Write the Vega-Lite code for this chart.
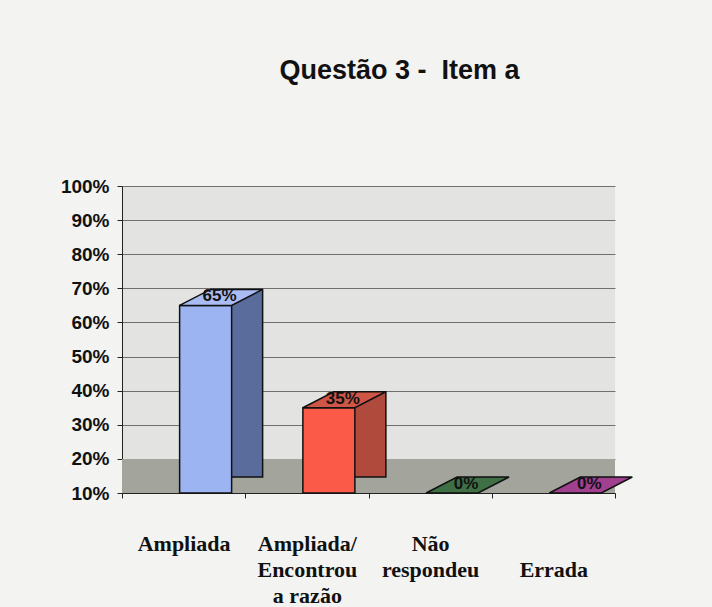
{
  "$schema": "https://vega.github.io/schema/vega-lite/v6.json",
  "autosize": {"type": "none"},
  "padding": {"left": 122, "top": 186, "right": 97, "bottom": 114},
  "width": 493,
  "height": 307,
  "background": "#f3f3f1",
  "title": {
    "text": "Questão 3 -\u00a0 Item a",
    "font": "Liberation Sans",
    "fontSize": 27,
    "fontWeight": "bold",
    "color": "#111111",
    "anchor": "middle",
    "dx": 31,
    "offset": 92
  },
  "data": {
    "values": [
      {"categoria": "Ampliada", "valor": 0.65},
      {"categoria": "Ampliada/ Encontrou a razão", "valor": 0.35},
      {"categoria": "Não respondeu", "valor": 0},
      {"categoria": "Errada", "valor": 0}
    ]
  },
  "encoding": {
    "x": {
      "field": "categoria",
      "type": "nominal",
      "sort": null,
      "scale": {"paddingInner": 0, "paddingOuter": 0},
      "axis": {
        "title": null,
        "labelAngle": 0,
        "labelAlign": "center",
        "labelBaseline": "top",
        "labelFont": "Liberation Serif",
        "labelFontSize": 22,
        "labelFontWeight": "bold",
        "labelColor": "#111111",
        "labelLineHeight": 26,
        "labelLimit": 0,
        "labelOverlap": false,
        "labelPadding": 35,
        "labelExpr": "datum.value == 'Ampliada/ Encontrou a razão' ? ['Ampliada/', 'Encontrou', 'a razão'] : datum.value == 'Não respondeu' ? ['Não', 'respondeu'] : datum.value == 'Errada' ? ['', 'Errada'] : datum.value",
        "domainColor": "#222222",
        "tickColor": "#222222",
        "tickBand": "extent",
        "tickSize": 5,
        "grid": false
      }
    },
    "y": {
      "field": "valor",
      "type": "quantitative",
      "scale": {"domain": [0.1, 1], "zero": false, "clamp": true, "nice": false},
      "axis": {
        "title": null,
        "values": [0.1, 0.2, 0.3, 0.4, 0.5, 0.6, 0.7, 0.8, 0.9, 1],
        "format": ".0%",
        "labelFont": "Liberation Sans",
        "labelFontSize": 19,
        "labelFontWeight": "bold",
        "labelColor": "#111111",
        "labelPadding": 8,
        "domainColor": "#222222",
        "tickColor": "#222222",
        "tickSize": 5,
        "grid": true,
        "gridColor": "#707070",
        "gridWidth": 1
      }
    }
  },
  "layer": [
    {
      "mark": {"type": "rect", "color": "#a3a49b"},
      "encoding": {
        "x": null,
        "y": {"datum": 0.1, "type": "quantitative"},
        "y2": {"datum": 0.2}
      }
    },
    {
      "transform": [{"filter": "datum.valor > 0"}],
      "mark": {"type": "bar", "size": 52, "xOffset": 53, "yOffset": -16, "stroke": "#111111", "strokeWidth": 1.5},
      "encoding": {
        "color": {
          "field": "categoria",
          "type": "nominal",
          "sort": null,
          "scale": {"domain": ["Ampliada", "Ampliada/ Encontrou a razão", "Não respondeu", "Errada"], "range": ["#5a6c9c", "#b04a3c", "#2f5a35", "#80306f"]},
          "legend": null
        }
      }
    },
    {
      "transform": [{"filter": "datum.valor > 0"}],
      "mark": {"type": "bar", "size": 52, "xOffset": 22, "stroke": "#111111", "strokeWidth": 1.5},
      "encoding": {
        "color": {
          "field": "categoria",
          "type": "nominal",
          "sort": null,
          "scale": {"domain": ["Ampliada", "Ampliada/ Encontrou a razão", "Não respondeu", "Errada"], "range": ["#9db4f2", "#fb5a48", "#3f6f45", "#a0408f"]},
          "legend": null
        }
      }
    },
    {
      "mark": {
        "type": "point",
        "filled": true,
        "size": 2704,
        "xOffset": 22,
        "shape": "M -1 0 L 1 0 L 2.19 -0.615 L 0.19 -0.615 Z",
        "stroke": "#111111",
        "strokeWidth": 1.5,
        "opacity": 1
      },
      "encoding": {
        "fill": {
          "field": "categoria",
          "type": "nominal",
          "sort": null,
          "scale": {"domain": ["Ampliada", "Ampliada/ Encontrou a razão", "Não respondeu", "Errada"], "range": ["#a9bcf4", "#cf5646", "#3f6f45", "#a0408f"]},
          "legend": null
        }
      }
    },
    {
      "mark": {
        "type": "text",
        "font": "Liberation Sans",
        "fontSize": 17,
        "fontWeight": "bold",
        "color": "#111111",
        "dx": 36,
        "dy": -9,
        "baseline": "middle",
        "align": "center"
      },
      "encoding": {
        "text": {"field": "valor", "type": "quantitative", "format": ".0%"}
      }
    }
  ],
  "resolve": {"scale": {"color": "independent"}},
  "config": {
    "view": {"fill": "#e3e3e1", "stroke": null}
  }
}
